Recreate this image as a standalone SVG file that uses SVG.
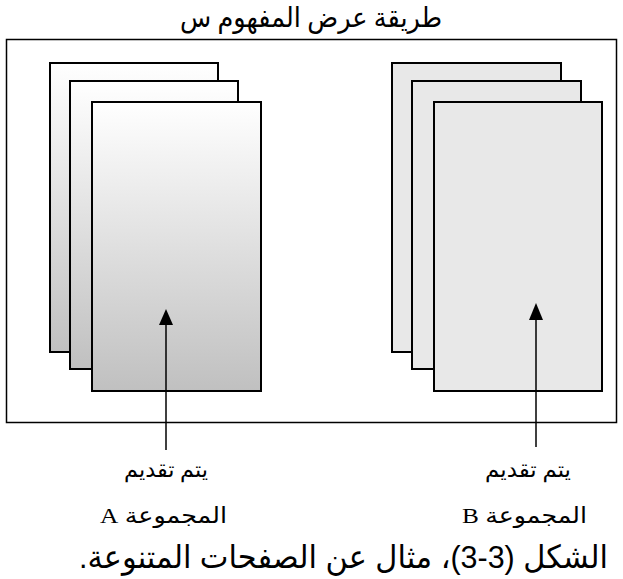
<svg xmlns="http://www.w3.org/2000/svg" width="623" height="579" viewBox="0 0 623 579">
<style>
.page{stroke:#000;stroke-width:2}
.a{fill:url(#gradA)}
.b{fill:#e8e8e8}
.frame{fill:none;stroke:#000;stroke-width:1.5}
.conn{stroke:#000;stroke-width:1.5;fill:none}
text{font-family:"Liberation Serif","DejaVu Sans",serif;fill:#000;direction:rtl;unicode-bidi:embed}
.t28{font-size:28px}
.t22{font-size:22px}
.cap{font-size:32px;font-family:"Liberation Sans","DejaVu Sans",sans-serif}
</style>
<defs>
<linearGradient id="gradA" x1="0" y1="0" x2="0" y2="1">
<stop offset="0" stop-color="#ffffff"/>
<stop offset="1" stop-color="#c0c0c0"/>
</linearGradient>
</defs>
<text class="t28" x="311" y="27" text-anchor="middle" textLength="262" lengthAdjust="spacingAndGlyphs">طريقة عرض المفهوم س</text>
<rect id="frame" class="frame" x="6.5" y="39.5" width="610" height="383"/>
<g id="stackA">
<rect class="page a" x="50" y="63" width="168" height="289"/>
<rect class="page a" x="70" y="81" width="168" height="288"/>
<rect class="page a" x="92" y="102" width="169" height="289"/>
</g>
<g id="stackB">
<rect class="page b" x="392" y="63" width="169" height="289"/>
<rect class="page b" x="412" y="81" width="169" height="288"/>
<rect class="page b" x="434" y="102" width="168" height="289"/>
</g>
<g id="connectors">
<line class="conn" x1="166" y1="450" x2="166" y2="325"/>
<path d="M166,309 L159,325 L173,325 z" fill="#000"/>
<line class="conn" x1="536" y1="447" x2="536" y2="320"/>
<path d="M536,303 L529,320 L543,320 z" fill="#000"/>
</g>
<g id="labelA">
<text class="t22" x="166" y="477" text-anchor="middle" textLength="84" lengthAdjust="spacingAndGlyphs">يتم تقديم</text>
<text class="t22" x="163.5" y="523" text-anchor="middle" textLength="127" lengthAdjust="spacingAndGlyphs">المجموعة A</text>
</g>
<g id="labelB">
<text class="t22" x="528" y="477" text-anchor="middle" textLength="86" lengthAdjust="spacingAndGlyphs">يتم تقديم</text>
<text class="t22" x="524.5" y="523" text-anchor="middle" textLength="125" lengthAdjust="spacingAndGlyphs">المجموعة B</text>
</g>
<text class="cap" x="343.5" y="568" text-anchor="middle" textLength="529" lengthAdjust="spacingAndGlyphs">الشكل (3-3)، مثال عن الصفحات المتنوعة.</text>
</svg>
